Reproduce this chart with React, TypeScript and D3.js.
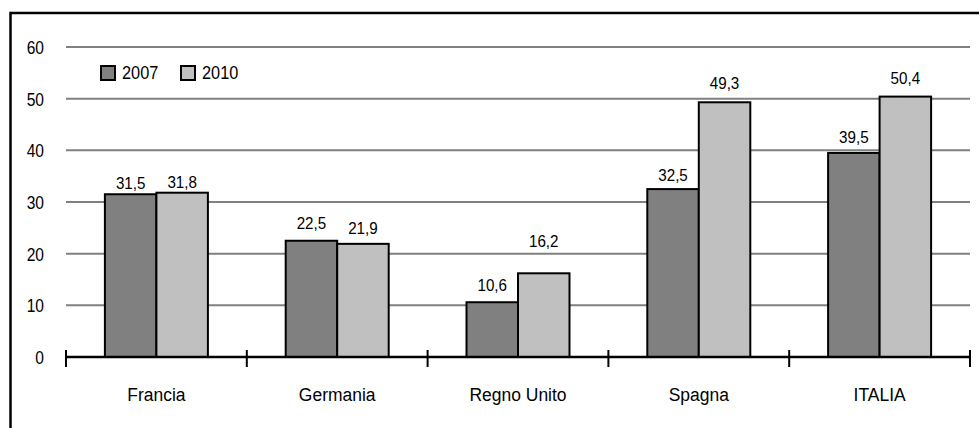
import React from "react";
import * as d3 from "d3";

const categories = ["Francia", "Germania", "Regno Unito", "Spagna", "ITALIA"];
const series2007 = [31.5, 22.5, 10.6, 32.5, 39.5];
const series2010 = [31.8, 21.9, 16.2, 49.3, 50.4];
const seriesNames = ["2007", "2010"];
const yTicks = [0, 10, 20, 30, 40, 50, 60];
// vertical gap (px) between bar top and value label baseline, as placed in the original
const labelGap2007 = [5, 12, 11, 8, 10];
const labelGap2010 = [5, 10, 26, 13, 13];

const W = 979;
const H = 428;
const FONT = "'Liberation Sans', Arial, sans-serif";
const colors = ["#808080", "#c0c0c0"];

function T(props: {
  x: number;
  y: number;
  size: number;
  sx?: number;
  anchor?: "start" | "middle" | "end";
  children: React.ReactNode;
}) {
  const { x, y, size, sx = 1, anchor = "start", children } = props;
  return (
    <text
      transform={`translate(${x},${y}) scale(${sx},1)`}
      textAnchor={anchor}
      fontSize={size}
      fill="#000"
    >
      {children}
    </text>
  );
}

export default function App() {
  const x = d3.scaleBand<string>().domain(categories).range([66, 970]).padding(0);
  const y = d3.scaleLinear().domain([0, 60]).range([357, 47]);
  const barW = 51.5;
  const series = [series2007, series2010];
  const gaps = [labelGap2007, labelGap2010];
  const boundaries = d3.range(categories.length + 1).map((i) => 66 + i * x.step());

  return (
    <svg
      width={W}
      height={H}
      style={{ position: "absolute", left: 0, top: 0, background: "#fff" }}
      fontFamily={FONT}
    >
      <rect x={0} y={0} width={W} height={H} fill="#fff" />
      <rect x={10.5} y={13} width={W + 10} height={H + 10} fill="none" stroke="#000" strokeWidth={2.5} />

      {yTicks.filter((t) => t > 0).map((t) => (
        <line key={"g" + t} x1={66} x2={970} y1={y(t)} y2={y(t)} stroke="#808080" strokeWidth={2} />
      ))}
      {yTicks.map((t) => (
        <T key={"yl" + t} x={44} y={y(t) + 7} size={19} sx={0.82} anchor="end">
          {t}
        </T>
      ))}

      {categories.map((c, i) => {
        const cx = (x(c) as number) + x.bandwidth() / 2;
        return (
          <g key={c}>
            {series.map((s, k) => {
              const bx = cx - barW + k * barW;
              const top = y(s[i]);
              return (
                <g key={k}>
                  <rect
                    x={bx}
                    y={top}
                    width={barW}
                    height={y(0) - top}
                    fill={colors[k]}
                    stroke="#000"
                    strokeWidth={2}
                  />
                  <T x={bx + barW / 2} y={top - gaps[k][i]} size={16.5} sx={0.92} anchor="middle">
                    {String(s[i]).replace(".", ",")}
                  </T>
                </g>
              );
            })}
            <T x={cx} y={401} size={19} sx={0.92} anchor="middle">
              {c}
            </T>
          </g>
        );
      })}

      <line x1={66} x2={970} y1={y(0)} y2={y(0)} stroke="#000" strokeWidth={2.5} />
      {boundaries.map((bx, i) => (
        <line key={"t" + i} x1={bx} x2={bx} y1={350} y2={367} stroke="#000" strokeWidth={2} />
      ))}

      {seriesNames.map((n, k) => (
        <g key={n} transform={`translate(${101 + k * 80},66)`}>
          <rect x={0} y={0} width={14} height={14} fill={colors[k]} stroke="#000" strokeWidth={2} />
          <T x={21} y={13} size={19} sx={0.86}>
            {n}
          </T>
        </g>
      ))}
    </svg>
  );
}
